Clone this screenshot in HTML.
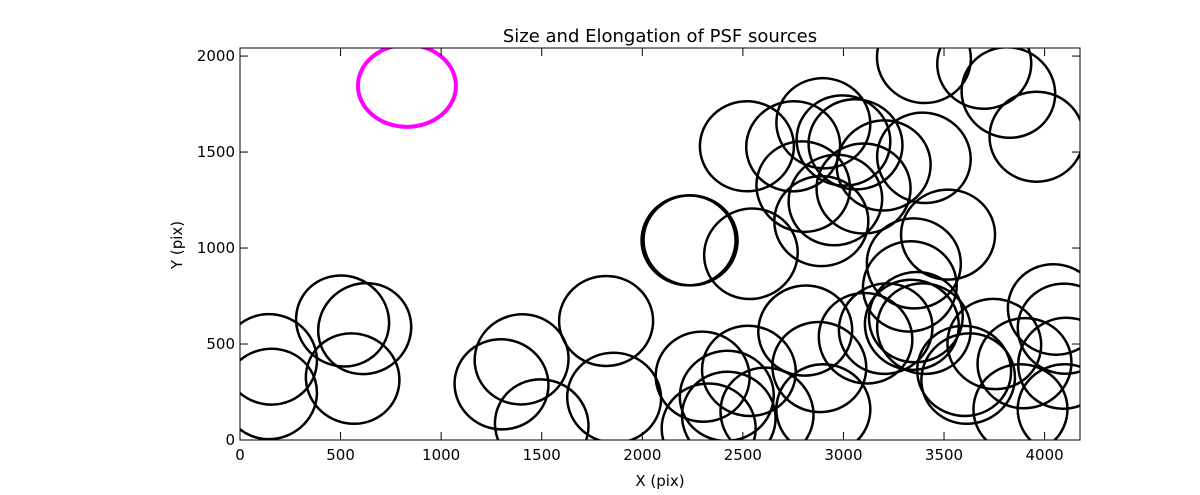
<!DOCTYPE html>
<html><head><meta charset="utf-8"><style>
body{margin:0;background:#fff;}
svg text{font-family:"DejaVu Sans","Liberation Sans",sans-serif;}
</style></head><body>
<svg id="chart" width="1200" height="490" viewBox="0 0 1200 490" xmlns="http://www.w3.org/2000/svg">
<rect width="1200" height="490" fill="#fff"/>
<text x="660" y="42" font-size="18" text-anchor="middle">Size and Elongation of PSF sources</text>
<text x="660" y="486" font-size="15" text-anchor="middle">X (pix)</text>
<text transform="translate(182,245) rotate(-90)" font-size="15" text-anchor="middle">Y (pix)</text>
<defs><clipPath id="clip"><rect x="240" y="48" width="840" height="392"/></clipPath></defs>
<g id="marks" clip-path="url(#clip)"></g>
<rect x="240" y="48" width="840" height="392" fill="none" stroke="#000" stroke-width="1"/>
<g id="axes"></g>
</svg>
<script>
const xTicks=[0,500,1000,1500,2000,2500,3000,3500,4000];
const yTicks=[0,500,1000,1500,2000];
const srcX=[150,150,510,620,560,1300,1400,1500,1820,1860,2230,2240,2540,2300,2330,2430,2420,2530,2620,2810,2880,2900,3110,3210,3340,3360,3400,3600,3620,3750,3880,3900,4050,4100,4100,4100,2520,2750,2800,2900,2890,2960,3000,3060,3100,3200,3400,3350,3330,3520,3400,3700,3820,3960];
const srcY=[420,240,620,580,320,290,420,80,620,220,1040,1040,970,330,60,120,230,360,140,570,380,160,530,580,600,640,580,360,320,500,160,400,680,580,400,160,1530,1530,1320,1650,1140,1250,1560,1540,1310,1430,1470,920,800,1070,1990,1960,1810,1580];
const srcAng=[20,-20,30,-30,20,10,-10,20,0,10,0,5,-20,10,0,20,-10,15,30,-10,10,0,20,-20,10,-15,20,10,-20,15,0,-10,20,10,-30,0,0,-10,20,10,0,-20,15,10,0,-10,20,5,-15,0,10,-5,20,0];
const hiX=[830], hiY=[1845];
const X=v=>240+v*840/4176, Y=v=>440-v*392/2042;
const NS="http://www.w3.org/2000/svg";
const marks=document.getElementById('marks'), axes=document.getElementById('axes');
srcX.forEach((x,i)=>{
  const e=document.createElementNS(NS,'ellipse');
  
  
  e.setAttribute('cx',X(x));e.setAttribute('cy',Y(srcY[i]));
  e.setAttribute('rx',47);e.setAttribute('ry',45);
  e.setAttribute('transform',`rotate(${srcAng[i]} ${X(x)} ${Y(srcY[i])})`);
  e.setAttribute('fill','none');e.setAttribute('stroke','#000');e.setAttribute('stroke-width','2.5');
  marks.appendChild(e);
});
hiX.forEach((x,i)=>{
  const e=document.createElementNS(NS,'ellipse');
  
  
  e.setAttribute('cx',X(x));e.setAttribute('cy',Y(hiY[i]));
  e.setAttribute('rx',49);e.setAttribute('ry',41);
  e.setAttribute('fill','none');e.setAttribute('stroke','#f0f');e.setAttribute('stroke-width','4');
  marks.appendChild(e);
});
function line(x1,y1,x2,y2){const l=document.createElementNS(NS,'line');
l.setAttribute('x1',x1);l.setAttribute('y1',y1);l.setAttribute('x2',x2);l.setAttribute('y2',y2);
l.setAttribute('stroke','#000');l.setAttribute('stroke-width','1');


axes.appendChild(l);}
function text(x,y,s,anchor,name){const t=document.createElementNS(NS,'text');
t.setAttribute('x',x);t.setAttribute('y',y);t.setAttribute('font-size','15');t.setAttribute('text-anchor',anchor);


t.textContent=s;axes.appendChild(t);}
xTicks.forEach(v=>{const px=X(v);line(px,440,px,432);line(px,48,px,56);text(px,460,String(v),'middle','x-tick-label');});
yTicks.forEach(v=>{const py=Y(v);line(240,py,248,py);line(1080,py,1072,py);text(235,py+5,String(v),'end','y-tick-label');});
</script>
</body></html>
